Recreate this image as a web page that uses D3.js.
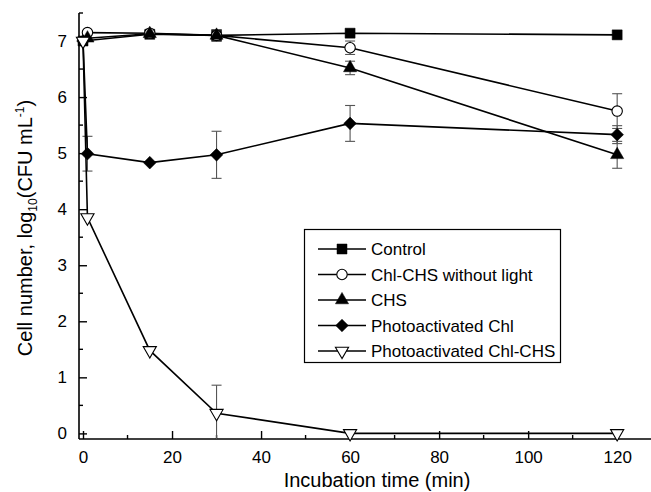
<!DOCTYPE html>
<html>
<head>
<meta charset="utf-8">
<script src="https://cdn.jsdelivr.net/npm/d3@7"></script>
<style>
  body { margin: 0; background: #fff; }
  text { font-family: "Liberation Sans", Arial, sans-serif; fill: #000; }
</style>
</head>
<body>
<div id="chart"></div>
<script>
// values
const seriesNames = ['Control', 'Chl-CHS without light', 'CHS', 'Photoactivated Chl', 'Photoactivated Chl-CHS'];

const controlTime = [0, 15, 30, 60, 120];
const controlValue = [7.0, 7.12, 7.1, 7.14, 7.11];
const controlErr = [0, 0, 0.1, 0, 0];

const chlChsTime = [1, 15, 30, 60, 120];
const chlChsValue = [7.15, 7.14, 7.1, 6.88, 5.75];
const chlChsErr = [0, 0.05, 0.1, 0.12, 0.31];

const chsTime = [1, 15, 30, 60, 120];
const chsValue = [7.05, 7.13, 7.1, 6.52, 4.97];
const chsErr = [0, 0.05, 0.1, 0.12, 0.24];

const pChlTime = [0, 1, 15, 30, 60, 120];
const pChlValue = [7.0, 4.99, 4.83, 4.97, 5.53, 5.33];
const pChlErr = [0, 0.31, 0, 0.42, 0.32, 0.16];

const pChlChsTime = [0, 1, 15, 30, 60, 120];
const pChlChsValue = [7.0, 3.85, 1.48, 0.36, 0, 0];
const pChlChsErr = [0, 0, 0, 0.5, 0, 0];

const xTicks = [0, 20, 40, 60, 80, 100, 120];
const yTicks = [0, 1, 2, 3, 4, 5, 6, 7];

const width = 651, height = 492;
const margin = {top: 13, right: 0, bottom: 53, left: 79};

const svg = d3.select('#chart')
  .append('svg')
  .attr('width', width)
  .attr('height', height);

const x = d3.scaleLinear().domain([-0.9, 127.6]).range([margin.left, width - margin.right]);
const y = d3.scaleLinear().domain([-0.1, 7.5]).range([height - margin.bottom, margin.top]);

// marker styles per series
const markers = [
  {type: d3.symbolSquare, size: 100, rot: 0, fill: '#000'},
  {type: d3.symbolCircle, size: 85, rot: 0, fill: '#fff'},
  {type: d3.symbolTriangle, size: 75, rot: 0, fill: '#000'},
  {type: d3.symbolSquare, size: 80, rot: 45, fill: '#000'},
  {type: d3.symbolTriangle, size: 75, rot: 180, fill: '#fff'}
];

function pack(t, v, e) {
  return t.map((d, i) => ({t: d, v: v[i], e: e[i]}));
}
const series = [
  pack(controlTime, controlValue, controlErr),
  pack(chlChsTime, chlChsValue, chlChsErr),
  pack(chsTime, chsValue, chsErr),
  pack(pChlTime, pChlValue, pChlErr),
  pack(pChlChsTime, pChlChsValue, pChlChsErr)
];

// axes
const xAxis = d3.axisBottom(x).tickValues(xTicks).tickSize(-8).tickPadding(12).tickFormat(d3.format('d'));
const yAxis = d3.axisLeft(y).tickValues(yTicks).tickSize(-8).tickPadding(12).tickFormat(d3.format('d'));

const gx = svg.append('g')
  .attr('transform', `translate(0,${height - margin.bottom})`)
  .call(xAxis);
const gy = svg.append('g')
  .attr('transform', `translate(${margin.left},0)`)
  .call(yAxis);

[gx, gy].forEach(g => {
  g.select('.domain').attr('stroke', '#000').attr('stroke-width', 1.6);
  g.selectAll('.tick line').attr('stroke', '#000').attr('stroke-width', 1.4);
  g.selectAll('.tick text').style('font-size', '17px').attr('fill', '#000');
});
gx.select('.domain').attr('d', `M${margin.left},0H${width}`);
gy.select('.domain').attr('d', `M0,${y(7.5)}V${height - margin.bottom}`);

// minor ticks
svg.append('g').selectAll('line')
  .data(d3.range(10, 130, 20))
  .join('line')
  .attr('x1', d => x(d)).attr('x2', d => x(d))
  .attr('y1', height - margin.bottom).attr('y2', height - margin.bottom - 4)
  .attr('stroke', '#000').attr('stroke-width', 1.4);
svg.append('g').selectAll('line')
  .data(d3.range(0.5, 8, 1))
  .join('line')
  .attr('x1', margin.left).attr('x2', margin.left + 4)
  .attr('y1', d => y(d)).attr('y2', d => y(d))
  .attr('stroke', '#000').attr('stroke-width', 1.4);

// axis titles
svg.append('text')
  .attr('x', 377).attr('y', 487)
  .attr('text-anchor', 'middle')
  .style('font-size', '20px')
  .text('Incubation time (min)');

const yt = svg.append('text')
  .attr('transform', `translate(32,${228}) rotate(-90)`)
  .attr('text-anchor', 'middle')
  .style('font-size', '20px');
yt.append('tspan').text('Cell number, log');
yt.append('tspan').attr('dy', 5).style('font-size', '12px').text('10');
yt.append('tspan').attr('dy', -5).text('(CFU mL');
yt.append('tspan').attr('dy', -8).style('font-size', '12px').text('-1');
yt.append('tspan').attr('dy', 8).text(')');

// error bars
series.forEach(s => {
  const g = svg.append('g').attr('stroke', '#555').attr('stroke-width', 1.1);
  s.filter(d => d.e > 0).forEach(d => {
    const lo = Math.max(d.v - d.e, -0.1);
    g.append('line').attr('x1', x(d.t)).attr('x2', x(d.t)).attr('y1', y(d.v + d.e)).attr('y2', y(lo));
    g.append('line').attr('x1', x(d.t) - 5).attr('x2', x(d.t) + 5).attr('y1', y(d.v + d.e)).attr('y2', y(d.v + d.e));
    if (d.v - d.e > -0.1) {
      g.append('line').attr('x1', x(d.t) - 5).attr('x2', x(d.t) + 5).attr('y1', y(lo)).attr('y2', y(lo));
    }
  });
});

// lines
const line = d3.line().x(d => x(d.t)).y(d => y(d.v));
series.forEach(s => {
  svg.append('path')
    .datum(s)
    .attr('fill', 'none')
    .attr('stroke', '#000')
    .attr('stroke-width', 1.6)
    .attr('d', line);
});

// markers
function drawMarker(sel, m) {
  sel.attr('d', d3.symbol().type(m.type).size(m.size))
    .attr('fill', m.fill)
    .attr('stroke', '#000')
    .attr('stroke-width', m.fill === '#fff' ? 1.1 : 0.5);
}
series.forEach((s, i) => {
  const m = markers[i];
  svg.append('g').selectAll('path')
    .data(s)
    .join('path')
    .attr('transform', d => `translate(${x(d.t)},${y(d.v)}) rotate(${m.rot})`)
    .call(drawMarker, m);
});

// legend
const legend = svg.append('g');
legend.append('rect')
  .attr('x', 304.5).attr('y', 229.5)
  .attr('width', 256).attr('height', 133)
  .attr('fill', '#fff').attr('stroke', '#000').attr('stroke-width', 1.2);
seriesNames.forEach((name, i) => {
  const cy = 249 + i * 25.5;
  const m = markers[i];
  legend.append('line')
    .attr('x1', 318).attr('x2', 366).attr('y1', cy).attr('y2', cy)
    .attr('stroke', '#000').attr('stroke-width', 1.6);
  legend.append('path')
    .attr('transform', `translate(342,${cy}) rotate(${m.rot})`)
    .call(drawMarker, m);
  legend.append('text')
    .attr('x', 371).attr('y', cy + 6)
    .style('font-size', '17px')
    .text(name);
});
</script>
</body>
</html>
